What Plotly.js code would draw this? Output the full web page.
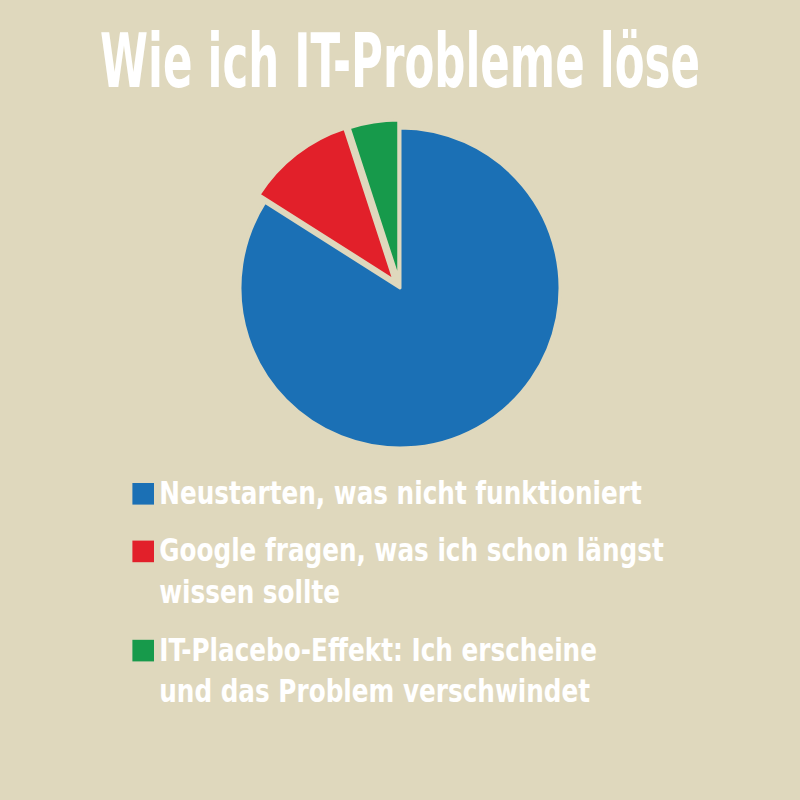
<!DOCTYPE html>
<html>
<head>
<meta charset="utf-8">
<script src="https://cdn.plot.ly/plotly-3.0.1.min.js"></script>
<style>html,body{margin:0;padding:0;background:#dfd8bd;}</style>
</head>
<body>
<div id="chart" style="width:800px;height:800px;"></div>
<script>
const titleText = "Wie ich IT-Probleme löse";
const categories = [
  "Neustarten, was nicht funktioniert",
  "Google fragen, was ich schon längst<br>wissen sollte",
  "IT-Placebo-Effekt: Ich erscheine<br>und das Problem verschwindet"
];
const values = [84, 11, 5];
const colors = ["#1b70b5", "#e2202a", "#179a4b"];
const pulls = [0, 0.06, 0.05];

const bg = "#dfd8bd";
const fontFam = "'Liberation Sans Narrow', 'DejaVu Sans Condensed', sans-serif";

const data = [{
  type: "pie",
  labels: categories,
  values: values,
  sort: false,
  direction: "clockwise",
  rotation: 0,
  pull: pulls,
  marker: {colors: colors, line: {color: bg, width: 3}},
  textinfo: "none",
  hoverinfo: "skip",
  domain: {x: [0, 1], y: [0.428, 0.852]}
}];

const layout = {
  width: 800, height: 800,
  paper_bgcolor: bg, plot_bgcolor: bg,
  margin: {l: 0, r: 0, t: 0, b: 0},
  title: {
    text: titleText,
    x: 0.5, xanchor: "center",
    y: 0.924, yanchor: "middle", yref: "container",
    font: {family: fontFam, size: 75, color: "#ffffff", weight: "bold"}
  },
  showlegend: true,
  legend: {
    x: 0.149, xanchor: "left",
    y: 0.42, yanchor: "top",
    valign: "top",
    bgcolor: "rgba(0,0,0,0)",
    font: {family: fontFam, size: 32, color: "#ffffff", weight: "bold"}
  }
};

function condense(el, sx) {
  const x0 = parseFloat(el.getAttribute("x")) || 0;
  el.setAttribute("transform", "translate(" + x0 + ",0) scale(" + sx + ",1) translate(" + (-x0) + ",0)");
}

Plotly.newPlot("chart", data, layout, {displayModeBar: false, staticPlot: true}).then(function(){
  // title condensed
  const t = document.querySelector("#chart .gtitle");
  if (t) condense(t, Math.min(1, 600 / t.getBBox().width));
  // legend texts condensed
  const texts = document.querySelectorAll("#chart .legendtext");
  if (texts.length) {
    const sx = Math.min(1, 483 / texts[0].getBBox().width);
    texts.forEach(function(el){ condense(el, sx); });
  }
  // bigger swatches
  document.querySelectorAll("#chart path.legendpie").forEach(function(p){
    p.setAttribute("transform", "translate(24,2.5) scale(1.8)");
    p.style.strokeWidth = "0px";
  });
  // extra spacing between legend entries
  document.querySelectorAll("#chart .legend g.traces").forEach(function(g, i){
    const tr = g.getAttribute("transform") || "";
    g.setAttribute("transform", tr + " translate(0," + (i * 13) + ")");
  });
  // avoid clipping of the enlarged legend
  document.querySelectorAll("#chart .legend [clip-path]").forEach(function(el){
    el.removeAttribute("clip-path");
  });
  document.querySelectorAll("#chart .legend clipPath rect").forEach(function(r){
    r.setAttribute("height", "1000");
  });
});
</script>
</body>
</html>
